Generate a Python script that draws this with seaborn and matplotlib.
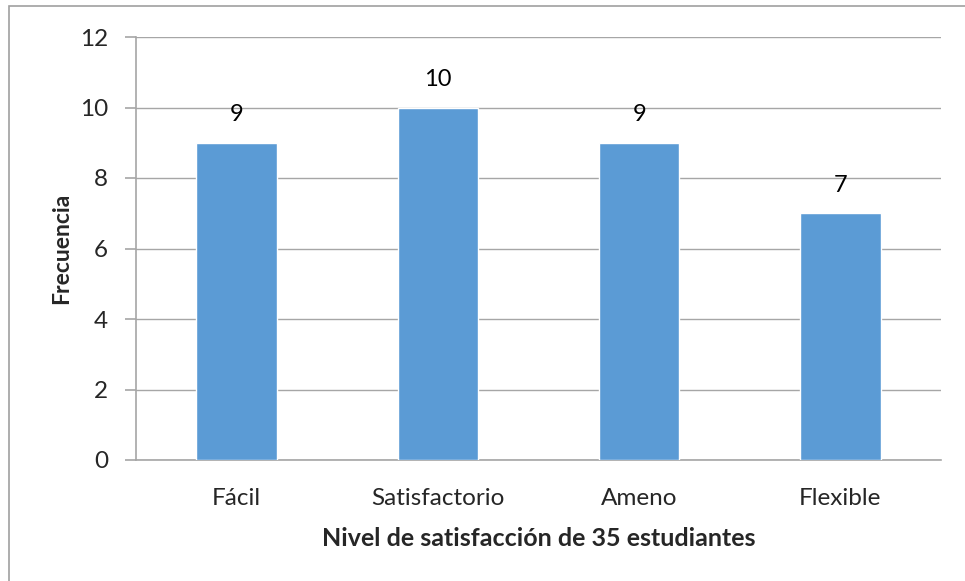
import pandas as pd
import seaborn as sns
import matplotlib.pyplot as plt
from matplotlib.patches import Rectangle

categorias = ["Fácil", "Satisfactorio", "Ameno", "Flexible"]
frecuencia = [9, 10, 9, 7]
y_ticks = [0, 2, 4, 6, 8, 10, 12]

df = pd.DataFrame({"nivel": categorias, "frecuencia": frecuencia})

sns.set_style("white")
plt.rcParams['font.family'] = ['Lato', 'DejaVu Sans']

fig = plt.figure(figsize=(9.65, 5.81), dpi=100)
ax = fig.add_axes([136 / 965, 1 - 460 / 581, 805 / 965, 423 / 581])

# outer chart frame (only top/left are visible in the reference)
fig.patches.append(Rectangle((9 / 965, -0.1), 1.2, 1 - 6 / 581 + 0.1,
                             transform=fig.transFigure, fill=False,
                             edgecolor="#A0A0A0", linewidth=1.2))

sns.barplot(data=df, x="nivel", y="frecuencia", color="#5B9BD5",
            saturation=1, width=0.4, ax=ax, zorder=3)

for i, v in enumerate(frecuencia):
    ax.text(i, v + 0.5, str(v), ha="center", va="bottom", fontsize=17, color="black")

ax.set_ylim(0, 12)
ax.set_xlim(-0.5, len(categorias) - 0.5)
ax.set_yticks(y_ticks)
ax.yaxis.grid(True, color="#A6A6A6", linewidth=1, zorder=0)
ax.set_axisbelow(True)

for s in ["top", "right"]:
    ax.spines[s].set_visible(False)
for s in ["left", "bottom"]:
    ax.spines[s].set_color("#A6A6A6")
    ax.spines[s].set_linewidth(1.2)

ax.set_xticks([i - 0.5 for i in range(len(categorias) + 1)], minor=True)
ax.tick_params(axis="x", which="major", length=0, pad=20, labelsize=17.5)
ax.tick_params(axis="x", which="minor", length=8, color="#A6A6A6", width=1.2, direction="out")
ax.tick_params(axis="y", length=8, color="#A6A6A6", width=1.2, direction="out", pad=12, labelsize=17.5)
ax.tick_params(bottom=True, left=True)

ax.set_xlabel("Nivel de satisfacción de 35 estudiantes", fontsize=18, fontweight="bold", labelpad=13)
ax.set_ylabel("Frecuencia", fontsize=16.5, fontweight="bold", labelpad=6)

fig.savefig("out.png", dpi=100)
